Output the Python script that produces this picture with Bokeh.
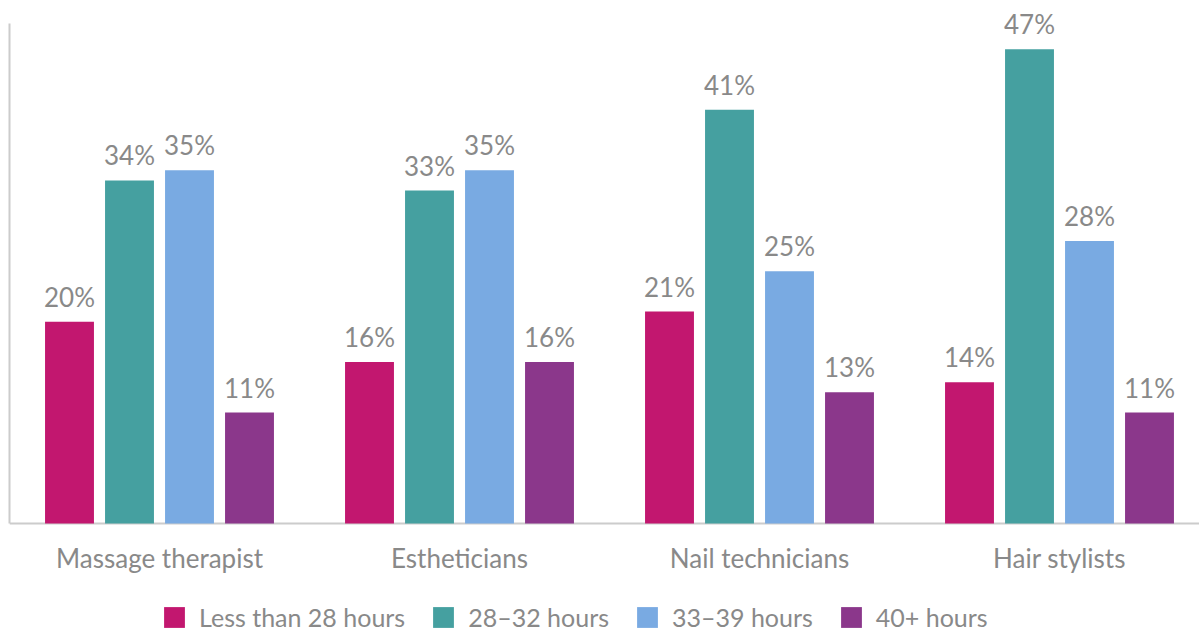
from bokeh.plotting import figure
from bokeh.models import ColumnDataSource, Legend, LegendItem, Span
from bokeh.core.properties import value
from bokeh.embed import file_html
from bokeh.resources import INLINE

categories = ["Massage therapist", "Estheticians", "Nail technicians", "Hair stylists"]
series_names = ["Less than 28 hours", "28\u201332 hours", "33\u201339 hours", "40+ hours"]
less_than_28 = [20, 16, 21, 14]
h28_32 = [34, 33, 41, 47]
h33_39 = [35, 35, 25, 28]
h40_plus = [11, 16, 13, 11]
colors = ["#C2176F", "#45A0A0", "#79AAE2", "#8B378B"]

series = [less_than_28, h28_32, h33_39, h40_plus]
offsets = [-0.3, -0.1, 0.1, 0.3]
bar_w = 0.163

FONT = "Lato"
GREY = "#898989"
W, H = 1199, 632
LEFT, TOP = 9, 8
BASE = 523          # pixel row of the baseline
PX_PER_PCT = 10.09
PX_PER_CAT = 300

p = figure(output_backend="svg", toolbar_location=None, width=W, height=H,
           x_range=(0, (W - LEFT) / PX_PER_CAT),
           y_range=(-(H - BASE) / PX_PER_PCT, (BASE - TOP) / PX_PER_PCT),
           min_border_left=LEFT, min_border_right=0, min_border_top=TOP, min_border_bottom=0,
           outline_line_color=None, background_fill_color="white")
p.xgrid.visible = False
p.ygrid.visible = False

# baseline (x axis line)
p.add_layout(Span(location=0, dimension="width", line_color="#cccccc", line_width=2,
                  level="underlay"))

items = []
for vals, off, col, name in zip(series, offsets, colors, series_names):
    xs = [i + 0.5 + off for i in range(len(categories))]
    src = ColumnDataSource(dict(x=xs, top=vals, lab=[f"{v}%" for v in vals]))
    r = p.vbar(x="x", top="top", bottom=0, width=bar_w, source=src,
               fill_color=col, line_color=None)
    p.text(x="x", y="top", text="lab", source=src, text_align="center",
           text_baseline="alphabetic", y_offset=-25, text_color=GREY,
           text_font=value(FONT), text_font_size="26px")
    items.append(LegendItem(label=name, renderers=[r]))

# category labels under the baseline
cat_src = ColumnDataSource(dict(x=[i + 0.5 for i in range(len(categories))],
                                y=[0] * len(categories), text=categories))
p.text(x="x", y="y", text="text", source=cat_src, text_align="center",
       text_baseline="middle", y_offset=34, text_color=GREY,
       text_font=value(FONT), text_font_size="26px")

# y axis: only a line
p.yaxis.bounds = (0, 49.6)
p.yaxis.axis_line_color = "#cccccc"
p.yaxis.axis_line_width = 2
p.yaxis.major_tick_line_color = None
p.yaxis.minor_tick_line_color = None
p.yaxis.major_label_text_font_size = "0px"
p.yaxis.major_label_text_color = None
p.xaxis.visible = False

legend = Legend(items=items, orientation="horizontal", location=(152, 0),
                glyph_width=26, glyph_height=26, label_standoff=12, spacing=25,
                label_text_font=FONT, label_text_font_size="25px",
                label_text_color=GREY, border_line_color=None,
                background_fill_alpha=0, padding=0, margin=0)
p.add_layout(legend, "center")

open("out.html", "w").write(file_html(p, INLINE))
